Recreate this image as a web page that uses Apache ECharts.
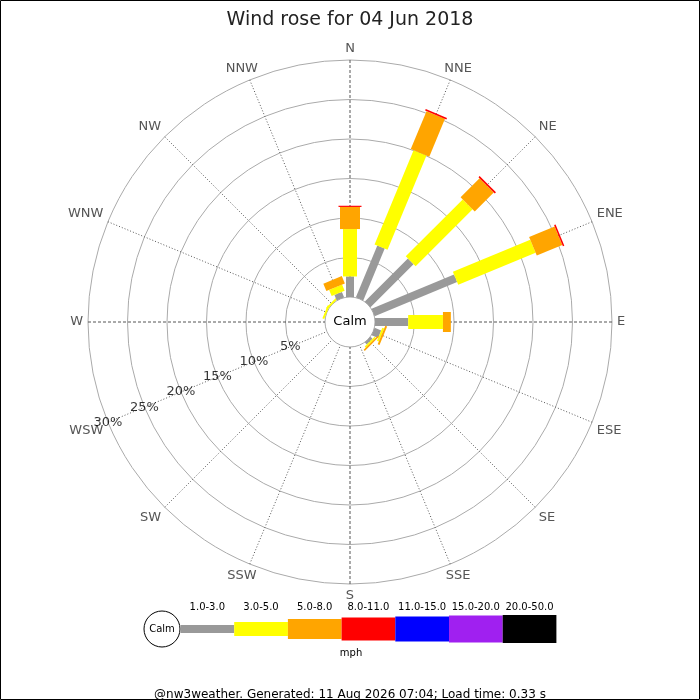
<!DOCTYPE html>
<html>
<head>
<meta charset="utf-8">
<style>
  html, body { margin: 0; padding: 0; background: #fff; }
  #chart { width: 700px; height: 700px; }
</style>
<script src="https://cdn.jsdelivr.net/npm/echarts@6/dist/echarts.min.js"></script>
</head>
<body>
<div id="chart"></div>
<script>
// 16 compass points, clockwise from north
const directions = ['N', 'NNE', 'NE', 'ENE', 'E', 'ESE', 'SE', 'SSE',
  'S', 'SSW', 'SW', 'WSW', 'W', 'WNW', 'NW', 'NNW']
const speedBands = ['1.0-3.0', '3.0-5.0', '5.0-8.0', '8.0-11.0', '11.0-15.0', '15.0-20.0', '20.0-50.0']

// % of the day per direction, one array per speed band (mph)
const band1to3 = [2.6, 7.1, 7.7, 11.3, 4.2, 0.9, 0.35, 0, 0, 0, 0, 0, 0, 0, 0, 0.75]
const band3to5 = [6.0, 12.9, 10.2, 10.6, 4.4, 0.25, 0.2, 0, 0, 0, 0, 0, 0, 0.25, 0.25, 0.85]
const band5to8 = [2.8, 5.2, 3.4, 3.5, 1.0, 0.25, 0.2, 0, 0, 0, 0, 0, 0, 0, 0, 1.0]
const band8to11 = [0.15, 0.2, 0.2, 0.2, 0, 0, 0, 0, 0, 0, 0, 0, 0, 0, 0, 0]
const band11to15 = [0, 0, 0, 0, 0, 0, 0, 0, 0, 0, 0, 0, 0, 0, 0, 0]
const band15to20 = [0, 0, 0, 0, 0, 0, 0, 0, 0, 0, 0, 0, 0, 0, 0, 0]
const band20to50 = [0, 0, 0, 0, 0, 0, 0, 0, 0, 0, 0, 0, 0, 0, 0, 0]

const radiusTicks = [5, 10, 15, 20, 25, 30]
const title = 'Wind rose for 04 Jun 2018'
const footer = '@nw3weather. Generated: 11 Aug 2026 07:04; Load time: 0.33 s'

// styles
const bandColors = ['#999999', '#ffff00', '#ffa500', '#ff0000', '#0000ff', '#a020f0', '#000000']
const bandWidths = [8, 14, 20, 23, 25, 27, 28]
const font = 'DejaVu Sans'
const cx = 350, cy = 322

const bands = [band1to3, band3to5, band5to8, band8to11, band11to15, band15to20, band20to50]
const step = 360 / directions.length

// stacked segments: [angle, start %, end %, band]
const segments = []
directions.forEach((d, i) => {
  let sum = 0
  bands.forEach((b, k) => {
    if (b[i] > 0) segments.push([i * step, sum, sum + b[i], k])
    sum += b[i]
  })
})

function renderBar (params, api) {
  const ang = api.value(0)
  const k = api.value(3)
  const p0 = api.coord([api.value(1), ang])
  const p1 = api.coord([api.value(2), ang])
  const a = api.coord([0, ang])
  const b = api.coord([30, ang])
  const len = Math.hypot(b[0] - a[0], b[1] - a[1])
  const nx = -(b[1] - a[1]) / len * bandWidths[k] / 2
  const ny = (b[0] - a[0]) / len * bandWidths[k] / 2
  return {
    type: 'polygon',
    shape: {
      points: [
        [p0[0] + nx, p0[1] + ny], [p1[0] + nx, p1[1] + ny],
        [p1[0] - nx, p1[1] - ny], [p0[0] - nx, p0[1] - ny]
      ]
    },
    style: { fill: bandColors[k] }
  }
}

// direction labels; the ones near the vertical axis sit a bit closer to it
function dirLabel (v) {
  const name = directions[Math.round(v / step)]
  if (!name) return ''
  return ['NNE', 'NNW', 'SSE', 'SSW'].indexOf(name) >= 0 ? '{s|' + name + '}' : name
}

// legend drawn from the speed bands
const legend = [
  { type: 'circle', shape: { cx: 162, cy: 629, r: 18 }, style: { fill: '#fff', stroke: '#000', lineWidth: 1 } },
  { type: 'text', x: 162, y: 629, style: { text: 'Calm', fontFamily: font, fontSize: 10, fill: '#000', align: 'center', verticalAlign: 'middle' } },
  { type: 'text', x: 351, y: 653, style: { text: 'mph', fontFamily: font, fontSize: 10, fill: '#000', align: 'center', verticalAlign: 'middle' } }
]
speedBands.forEach((s, k) => {
  const x = 180.5 + k * 53.7
  legend.push({
    type: 'rect',
    shape: { x: x, y: 629 - bandWidths[k] / 2, width: 53.7, height: bandWidths[k] },
    style: { fill: bandColors[k] }
  })
  legend.push({
    type: 'text', x: x + 26.8, y: 607,
    style: { text: s, fontFamily: font, fontSize: 10, fill: '#000', align: 'center', verticalAlign: 'middle' }
  })
})

const chart = echarts.init(document.getElementById('chart'))

chart.setOption({
  animation: false,
  textStyle: { fontFamily: font },
  title: [{
    text: title,
    left: 'center',
    top: 6,
    textStyle: { fontFamily: font, fontSize: 19, fontWeight: 'normal', color: '#222' }
  }, {
    text: footer,
    left: 'center',
    top: 684,
    textStyle: { fontFamily: font, fontSize: 12, fontWeight: 'normal', color: '#000' }
  }],
  polar: [
    { center: [cx, cy], radius: [25, 262] },
    { center: [cx, cy], radius: [25, 262] }
  ],
  angleAxis: [{
    polarIndex: 0,
    type: 'value',
    min: 0,
    max: 360,
    interval: step,
    startAngle: 90,
    clockwise: true,
    axisLine: { show: false },
    axisTick: { show: false },
    axisLabel: {
      margin: 5,
      color: '#555',
      fontSize: 13,
      formatter: dirLabel,
      rich: {
        s: { width: 12, align: 'center', color: '#555', fontSize: 13, fontFamily: font }
      }
    },
    splitLine: {
      show: true,
      lineStyle: { color: ['transparent', '#555', '#555', '#555'], type: [1, 2], width: 1 }
    }
  }, {
    polarIndex: 1,
    type: 'value',
    min: 0,
    max: 360,
    interval: 90,
    startAngle: 90,
    clockwise: true,
    axisLine: { show: false },
    axisTick: { show: false },
    axisLabel: { show: false },
    splitLine: { show: true, lineStyle: { color: '#555', type: [3, 2], width: 1 } }
  }],
  radiusAxis: [{
    polarIndex: 0,
    min: 0,
    max: 30,
    interval: 5,
    axisLine: { show: false },
    axisTick: { show: false },
    axisLabel: { show: false },
    splitLine: { show: true, lineStyle: { color: '#aaa', width: 1 } }
  }, {
    polarIndex: 1,
    min: 0,
    max: 30,
    interval: 5,
    axisLine: { show: false },
    axisTick: { show: false },
    axisLabel: { show: false },
    splitLine: { show: false }
  }],
  series: [{
    type: 'custom',
    coordinateSystem: 'polar',
    polarIndex: 0,
    encode: { angle: 0, radius: 2 },
    renderItem: renderBar,
    data: segments,
    z: 3
  }, {
    // percentage labels along the WSW spoke
    type: 'scatter',
    coordinateSystem: 'polar',
    polarIndex: 0,
    symbolSize: 1,
    itemStyle: { color: 'transparent' },
    label: {
      show: true,
      position: 'inside',
      formatter: p => p.value[0] + '%',
      color: '#000',
      fontSize: 13
    },
    data: radiusTicks.map(t => [t, directions.indexOf('WSW') * step]),
    z: 4
  }],
  graphic: [
    { type: 'text', x: cx, y: cy, z: 10, style: { text: 'Calm', fontFamily: font, fontSize: 13, fill: '#000', align: 'center', verticalAlign: 'middle' } },
    { type: 'rect', shape: { x: 0.5, y: 0.5, width: 699, height: 699 }, style: { fill: 'none', stroke: '#000', lineWidth: 1 }, z: 10 }
  ].concat(legend)
})
</script>
</body>
</html>
